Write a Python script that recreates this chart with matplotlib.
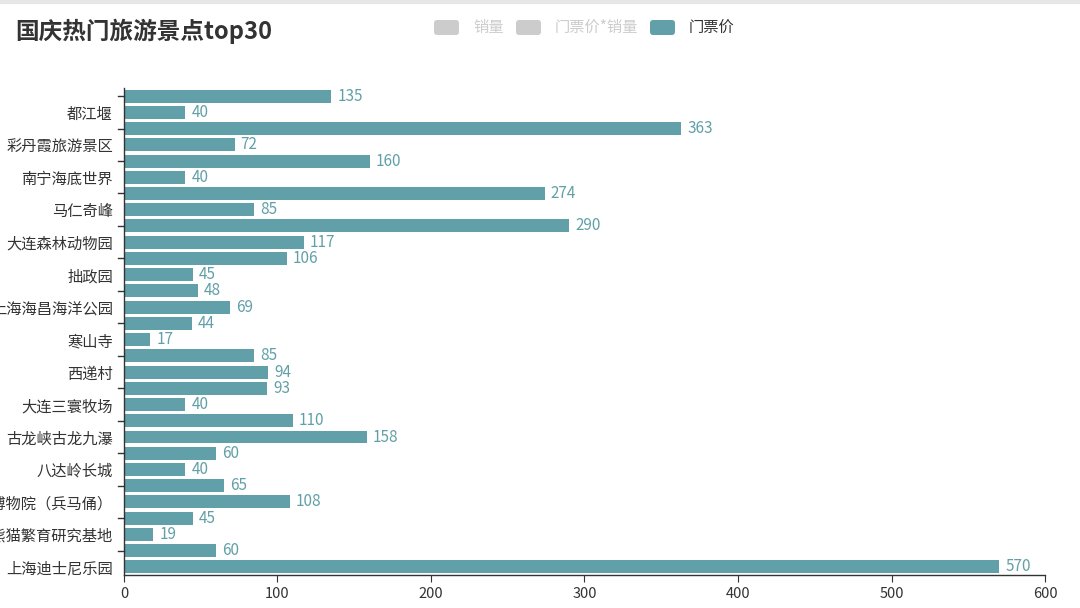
import numpy as np
import matplotlib.pyplot as plt
from matplotlib.patches import FancyBboxPatch
from matplotlib.lines import Line2D

plt.rcParams['font.family'] = ['Noto Sans CJK SC', 'DejaVu Sans']

# top-to-bottom; only every other category label is shown
spots = ['', '都江堰', '', '彩丹霞旅游景区', '', '南宁海底世界', '', '马仁奇峰',
         '', '大连森林动物园', '', '拙政园', '', '上海海昌海洋公园', '', '寒山寺',
         '', '西递村', '', '大连三寰牧场', '', '古龙峡古龙九瀑', '', '八达岭长城',
         '', '秦始皇帝陵博物院（兵马俑）', '', '大熊猫繁育研究基地', '', '上海迪士尼乐园']
price = [135, 40, 363, 72, 160, 40, 274, 85, 290, 117,
         106, 45, 48, 69, 44, 17, 85, 94, 93, 40,
         110, 158, 60, 40, 65, 108, 45, 19, 60, 570]
legend_names = ['销量', '门票价*销量', '门票价']
legend_active = [False, False, True]
x_ticks = [0, 100, 200, 300, 400, 500, 600]

TEAL = '#61a0a8'
AXIS = '#333333'

fig = plt.figure(figsize=(10.8, 6.08), dpi=100)
ax = fig.add_axes([0.1148, 0.0543, 0.8528, 0.801])

n = len(price)
ypos = np.arange(n)[::-1]  # first entry at the top
ax.barh(ypos, price, height=0.8, color=TEAL)
for y, v in zip(ypos, price):
    ax.text(v + 4, y, str(v), va='center', ha='left', fontsize=11, color=TEAL)

ax.set_xlim(0, 600)
ax.set_ylim(-0.5, n - 0.5)
ax.set_xticks(x_ticks)
ax.set_xticklabels([str(t) for t in x_ticks], fontsize=10.5, color=AXIS)

labelled = [(y, s) for y, s in zip(ypos, spots) if s]
ax.set_yticks([y for y, _ in labelled])
ax.set_yticklabels([s for _, s in labelled], fontsize=11, color=AXIS)
ax.tick_params(axis='y', length=0, pad=8)
ax.tick_params(axis='x', length=5, color=AXIS, pad=4)
# short tick marks on the unlabeled rows, like the original
for y, s in zip(ypos, spots):
    if not s:
        ax.plot([-0.006, 0], [y, y], transform=ax.get_yaxis_transform(),
                color=AXIS, lw=1, clip_on=False)

for side in ['top', 'right']:
    ax.spines[side].set_visible(False)
for side in ['left', 'bottom']:
    ax.spines[side].set_color(AXIS)
    ax.spines[side].set_linewidth(1)

# title
fig.text(15 / 1080, 1 - 31 / 608, '国庆热门旅游景点top30', fontsize=17,
         fontweight='bold', color='#333333', va='center', ha='left')

# legend drawn by hand to mimic echarts
box_x = [434, 516, 650]
for bx, name, on in zip(box_x, legend_names, legend_active):
    c = TEAL if on else '#cccccc'
    fig.patches.append(FancyBboxPatch((bx / 1080, 1 - 35 / 608), 25 / 1080, 15 / 608,
                                      boxstyle='round,pad=0,rounding_size=0.003',
                                      transform=fig.transFigure, color=c, lw=0,
                                      mutation_aspect=1080 / 608))
    fig.text((bx + 39) / 1080, 1 - 27.5 / 608, name, fontsize=11,
             color='#333333' if on else '#cccccc', va='center', ha='left')

fig.lines.append(Line2D([0, 1], [1 - 1.5 / 608] * 2, transform=fig.transFigure,
                        color='#e6e6e6', lw=3))

fig.savefig('out.png', dpi=100)
